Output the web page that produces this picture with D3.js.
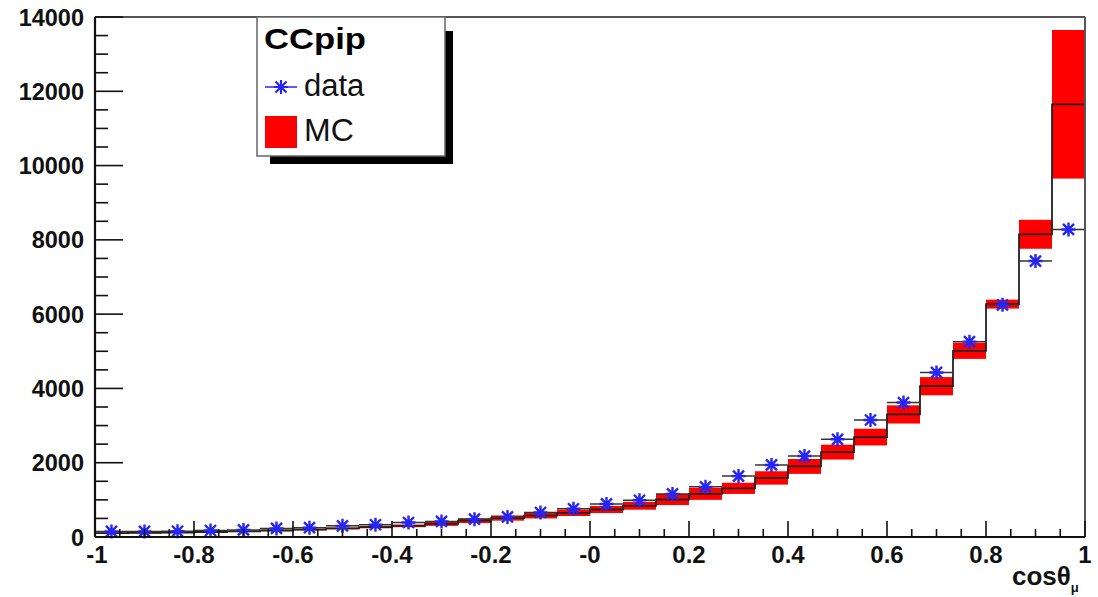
<!DOCTYPE html>
<html>
<head>
<meta charset="utf-8">
<script src="https://cdn.jsdelivr.net/npm/d3@7"></script>
<style>
  html, body { margin: 0; padding: 0; background: #fff; }
  svg { display: block; }
  text { font-family: "Liberation Sans", Arial, Helvetica, sans-serif; }
</style>
</head>
<body>
<svg id="chart" width="1098" height="597"></svg>
<script>
// ---- data ----
const binEdgesMin = -1;
const binEdgesMax = 1;
const nBins = 30;
const dataValues = [150, 150, 155, 175, 190, 230, 250, 300, 330, 390,
                    420, 480, 540, 660, 760, 890, 990, 1160, 1350, 1640,
                    1940, 2180, 2630, 3150, 3620, 4430, 5260, 6250, 7430, 8280];
const mcValues = [105, 110, 120, 135, 150, 175, 200, 230, 265, 300,
                  355, 440, 510, 575, 650, 740, 840, 1010, 1160, 1310,
                  1590, 1900, 2285, 2690, 3300, 4060, 5010, 6270, 8150, 11650];
const mcErrors = [12, 12, 14, 15, 16, 18, 20, 24, 30, 36,
                  55, 65, 70, 75, 85, 95, 105, 150, 160, 150,
                  180, 200, 200, 225, 245, 245, 215, 120, 390, 2000];
const xTickValues = [-1, -0.8, -0.6, -0.4, -0.2, 0, 0.2, 0.4, 0.6, 0.8, 1];
const xTickLabels = ["-1", "-0.8", "-0.6", "-0.4", "-0.2", "-0", "0.2", "0.4", "0.6", "0.8", "1"];
const yTickValues = [0, 2000, 4000, 6000, 8000, 10000, 12000, 14000];
const legendTitle = "CCpip";
const legendEntries = ["data", "MC"];

(function () {
// ---- layout ----
const svg = d3.select("#chart");
const pL = 95, pR = 1085, pT = 17, pB = 537;
const x = d3.scaleLinear().domain([binEdgesMin, binEdgesMax]).range([pL, pR]);
const y = d3.scaleLinear().domain([0, 14000]).range([pB, pT]);
const bw = (binEdgesMax - binEdgesMin) / nBins;
const bins = d3.range(nBins).map(i => ({
  lo: binEdgesMin + i * bw,
  hi: binEdgesMin + (i + 1) * bw,
  c: binEdgesMin + (i + 0.5) * bw,
  data: dataValues[i], mc: mcValues[i], err: mcErrors[i]
}));

// MC error band
svg.append("g").selectAll("rect").data(bins).join("rect")
  .attr("x", d => x(d.lo))
  .attr("width", d => x(d.hi) - x(d.lo))
  .attr("y", d => y(d.mc + d.err))
  .attr("height", d => y(d.mc - d.err) - y(d.mc + d.err))
  .attr("fill", "#ff0000");

// MC step histogram
const stepPts = [[binEdgesMin, 0]];
bins.forEach(d => { stepPts.push([d.lo, d.mc]); stepPts.push([d.hi, d.mc]); });
stepPts.push([binEdgesMax, 0]);
svg.append("path")
  .attr("d", d3.line().x(p => x(p[0])).y(p => y(p[1]))(stepPts))
  .attr("fill", "none").attr("stroke", "#222").attr("stroke-width", 1.8);

// data horizontal error bars
svg.append("g").selectAll("line").data(bins).join("line")
  .attr("x1", d => x(d.lo)).attr("x2", d => x(d.hi))
  .attr("y1", d => y(d.data)).attr("y2", d => y(d.data))
  .attr("stroke", "#333").attr("stroke-width", 1.5);

// data markers (asterisk)
const star = "M-7,0H7M0,-7V7M-5.5,-5.5L5.5,5.5M-5.5,5.5L5.5,-5.5";
svg.append("g").selectAll("path").data(bins).join("path")
  .attr("transform", d => `translate(${x(d.c)},${y(d.data)})`)
  .attr("d", star)
  .attr("fill", "none").attr("stroke", "#2626f0").attr("stroke-width", 2.4);

// frame
svg.append("line").attr("x1", pL).attr("x2", pR).attr("y1", pT).attr("y2", pT)
  .attr("stroke", "#555").attr("stroke-width", 2);
svg.append("line").attr("x1", pR).attr("x2", pR).attr("y1", pT).attr("y2", pB)
  .attr("stroke", "#555").attr("stroke-width", 2);

// x axis (ticks inward/up)
const xMinor = d3.range(0, 41).map(i => -1 + i * 0.05);
const xAxis = svg.append("g");
xAxis.append("line").attr("x1", pL).attr("x2", pR).attr("y1", pB).attr("y2", pB)
  .attr("stroke", "#111").attr("stroke-width", 2.2);
xAxis.selectAll("line.minor").data(xMinor).join("line").attr("class", "minor")
  .attr("x1", d => x(d)).attr("x2", d => x(d))
  .attr("y1", pB).attr("y2", (d, i) => pB - (i % 4 === 0 ? 16 : 8))
  .attr("stroke", "#111").attr("stroke-width", 1.6);
xAxis.selectAll("text").data(xTickValues).join("text")
  .attr("x", d => x(d) + (d === -1 ? 2 : 0)).attr("y", 563)
  .attr("text-anchor", "middle")
  .attr("font-size", 24).attr("font-weight", "bold").attr("fill", "#111")
  .text((d, i) => xTickLabels[i]);

// y axis (ticks inward/right)
const yMinor = d3.range(0, 29).map(i => i * 500);
const yAxis = svg.append("g");
yAxis.append("line").attr("x1", pL).attr("x2", pL).attr("y1", pT).attr("y2", pB)
  .attr("stroke", "#111").attr("stroke-width", 2.2);
yAxis.selectAll("line.minor").data(yMinor).join("line").attr("class", "minor")
  .attr("x1", pL).attr("x2", (d, i) => pL + (i % 4 === 0 ? 28 : 13))
  .attr("y1", d => y(d)).attr("y2", d => y(d))
  .attr("stroke", "#111").attr("stroke-width", 1.6);
yAxis.selectAll("text").data(yTickValues).join("text")
  .attr("x", 84).attr("y", d => y(d) + 8.5)
  .attr("text-anchor", "end")
  .attr("font-size", 23.5).attr("font-weight", "bold").attr("fill", "#111")
  .text(d => d3.format("d")(d));

// axis title
const title = svg.append("text").attr("x", 1012).attr("y", 585)
  .attr("font-size", 26).attr("font-weight", "bold").attr("fill", "#111");
title.append("tspan").text("cosθ");
title.append("tspan").attr("font-size", 13).attr("dy", 7).text("μ");

// legend
const lg = svg.append("g");
lg.append("rect").attr("x", 270).attr("y", 31).attr("width", 183).attr("height", 133).attr("fill", "#000");
lg.append("rect").attr("x", 257).attr("y", 17).attr("width", 188).attr("height", 139)
  .attr("fill", "#fff").attr("stroke", "#666").attr("stroke-width", 1.5);
lg.append("text").attr("x", 264).attr("y", 49).attr("font-size", 30).attr("font-weight", "bold")
  .attr("fill", "#000").attr("textLength", 102).attr("lengthAdjust", "spacingAndGlyphs")
  .text(legendTitle);
lg.append("line").attr("x1", 265).attr("x2", 297).attr("y1", 87).attr("y2", 87)
  .attr("stroke", "#2626f0").attr("stroke-width", 1.5);
lg.append("path").attr("transform", "translate(281,87)").attr("d", star)
  .attr("fill", "none").attr("stroke", "#2626f0").attr("stroke-width", 2.2);
lg.append("text").attr("x", 304).attr("y", 96).attr("font-size", 31).attr("fill", "#111")
  .text(legendEntries[0]);
lg.append("rect").attr("x", 265).attr("y", 116).attr("width", 32).attr("height", 32).attr("fill", "#ff0000");
lg.append("text").attr("x", 304).attr("y", 141).attr("font-size", 32).attr("fill", "#111")
  .text(legendEntries[1]);
})();
</script>
</body>
</html>
